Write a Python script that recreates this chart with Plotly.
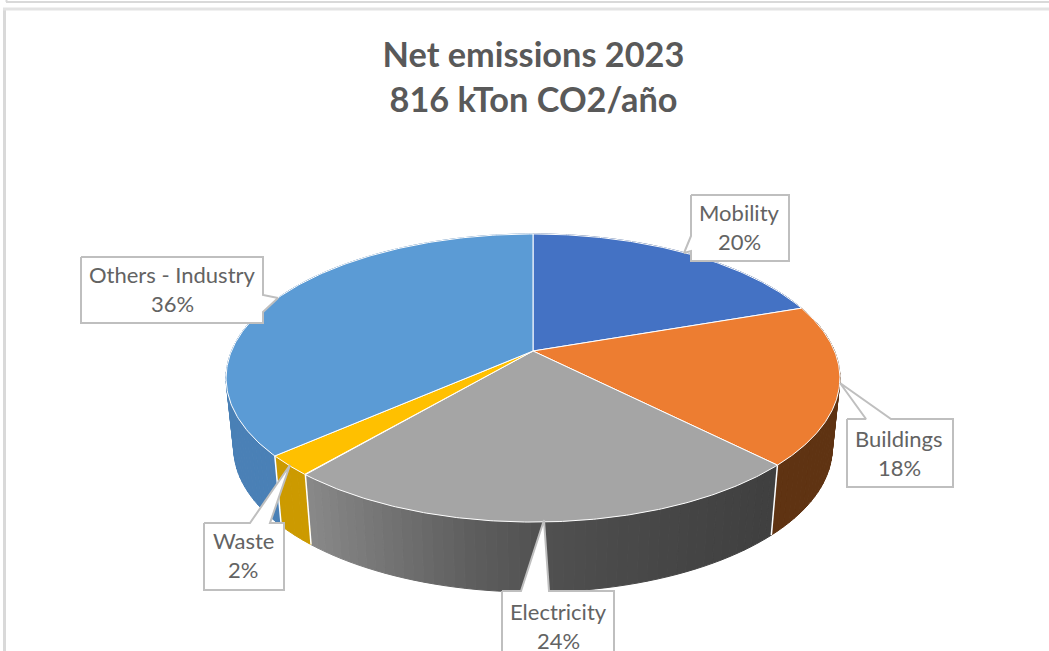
import numpy as np
import plotly.graph_objects as go

# --- data ---
categories = ["Mobility", "Buildings", "Electricity", "Waste", "Others - Industry"]
shares = [19.7, 17.9, 23.6, 2.3, 36.5]          # per cent, drawn clockwise from 12 o'clock
shown_pct = [20, 18, 24, 2, 36]                 # labels as printed in the chart
title_lines = ["Net emissions 2023", "816 kTon CO2/año"]

# --- styles ---
top_colors = ["#4472C4", "#ED7D31", "#A5A5A5", "#FFC000", "#5B9BD5"]
wall_colors = ["#335693", "#5F3312", None, "#CC9A00", "#4A80B6"]
FONT = "Lato"
TXT = "#636363"
W, H = 1049, 651

# perspective projection of the pie disc onto the page (pixels)
CX, CY, RX, RY, P = 533.0, 351.0, 301.5, 139.0, 0.1875
DEPTH, XSHRINK = 70.0, 0.975


def project(theta):
    u, v = np.sin(theta), -np.cos(theta)
    w = 1 - P * v
    return CX + RX * u / w, CY + RY * v / w


fig = go.Figure()


def poly(xs, ys, fill, line=None, lw=0.0):
    fig.add_trace(go.Scatter(
        x=list(xs), y=list(ys), mode="lines", fill="toself", fillcolor=fill,
        line=dict(color=line or fill, width=lw if line else 1),
        hoverinfo="skip", showlegend=False))


def elec_gray(x):
    g = np.interp(x, [310, 400, 480, 550, 660, 775], [0x88, 0x70, 0x5C, 0x50, 0x47, 0x40])
    return "#%02x%02x%02x" % (int(g), int(g), int(g))


cum = np.cumsum([0] + shares) / sum(shares) * 2 * np.pi
spans = list(zip(cum[:-1], cum[1:]))

# side wall, split into narrow strips so the shading can vary
for i, (a0, a1) in enumerate(spans):
    n = max(2, int((a1 - a0) / 0.03))
    t = np.linspace(a0, a1, n + 1)
    for b0, b1 in zip(t[:-1], t[1:]):
        tt = np.linspace(b0, b1, 3)
        x, y = project(tt)
        xl = CX + (x - CX) * XSHRINK
        yl = y + DEPTH
        if wall_colors[i] is None:
            col = elec_gray(x.mean())
        else:
            col = wall_colors[i]
        poly(np.r_[x, xl[::-1], x[0]], np.r_[y, yl[::-1], y[0]], col)

# white seams down the wall at the visible slice edges
for a in cum[2:4].tolist() + [cum[4]]:
    x, y = project(np.array([a]))
    fig.add_trace(go.Scatter(
        x=[x[0], CX + (x[0] - CX) * XSHRINK], y=[y[0], y[0] + DEPTH], mode="lines",
        line=dict(color="white", width=1.5), hoverinfo="skip", showlegend=False))

# top face
for i, (a0, a1) in enumerate(spans):
    t = np.linspace(a0, a1, 160)
    x, y = project(t)
    poly(np.r_[CX, x, CX], np.r_[CY, y, CY], top_colors[i], "white", 1.0)

# callout boxes (page pixels) with their pointers
callouts = [
    [(691, 195), (789, 195), (789, 261), (691, 261), (691, 251), (684, 253), (691, 236)],
    [(847, 419), (866, 419), (840, 383), (891, 419), (953, 419), (953, 487), (847, 487)],
    [(502, 591), (521, 591), (544, 520), (549, 591), (614, 591), (614, 665), (502, 665)],
    [(204, 523), (250, 523), (290, 465), (270, 523), (284, 523), (284, 590), (204, 590)],
    [(81, 257), (263, 257), (263, 295), (278, 298), (263, 312), (263, 323), (81, 323)],
]
label_pos = [(739, 212), (899, 438), (558, 611), (243, 540), (172, 274)]
LINE_GAP = 29.5

for pts in callouts:
    xs, ys = zip(*(pts + pts[:1]))
    poly(xs, ys, "white", "#BFBFBF", 2)

annotations = []
for name, pct, (lx, ly) in zip(categories, shown_pct, label_pos):
    for txt, yy in ((name, ly), (f"{pct}%", ly + LINE_GAP)):
        annotations.append(dict(
            x=lx, y=yy, xref="x", yref="y", text=txt, showarrow=False,
            xanchor="center", yanchor="middle",
            font=dict(family=FONT, size=22, color=TXT)))

# outer frames of the sheet
shapes = [
    dict(type="line", xref="x", yref="y", x0=4.5, x1=4.5, y0=9, y1=H, line=dict(color="#D9D9D9", width=3)),
    dict(type="line", xref="x", yref="y", x0=3, x1=W, y0=9, y1=9, line=dict(color="#E3E3E3", width=3)),
    dict(type="line", xref="x", yref="y", x0=6, x1=W, y0=2, y1=2, line=dict(color="#D9D9D9", width=2)),
    dict(type="line", xref="x", yref="y", x0=6.5, x1=6.5, y0=0, y1=2, line=dict(color="#D9D9D9", width=2)),
]

fig.update_layout(
    width=W, height=H, margin=dict(l=0, r=0, t=0, b=0),
    paper_bgcolor="white", plot_bgcolor="white", showlegend=False,
    title=dict(text="<br>".join(title_lines), x=533.5 / W, xanchor="center",
               y=1 - 67 / H, yanchor="top",
               font=dict(family=FONT, size=34.3, color="#595959", weight="bold")),
    xaxis=dict(range=[0, W], visible=False, fixedrange=True),
    yaxis=dict(range=[H, 0], visible=False, fixedrange=True),
    annotations=annotations, shapes=shapes,
)

fig.write_html("out.html", config=dict(displayModeBar=False),
               post_script="document.body.style.margin='0';document.body.style.overflow='hidden';")
